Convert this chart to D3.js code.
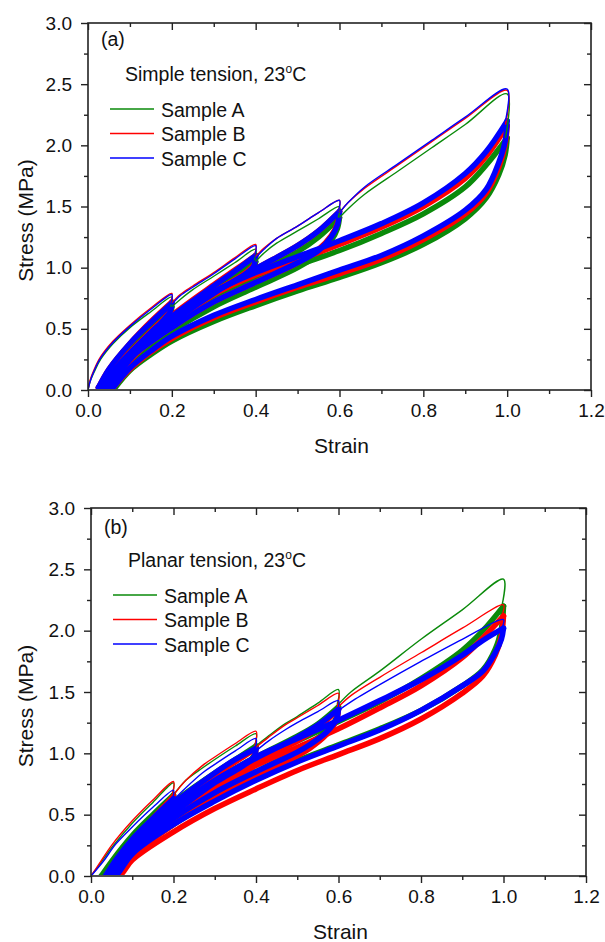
<!DOCTYPE html>
<html>
<head>
<meta charset="utf-8">
<script src="https://cdn.jsdelivr.net/npm/d3@7"></script>
<style>
  body { margin: 0; background: #fff; }
  svg text { font-family: "Liberation Sans", Arial, sans-serif; fill: #111; }
</style>
</head>
<body>
<svg id="chart"></svg>
<script>
// axis ticks
var xTicks = [0, 0.2, 0.4, 0.6, 0.8, 1.0, 1.2];
var xMinor = [0.1, 0.3, 0.5, 0.7, 0.9, 1.1];
var yTicks = [0, 0.5, 1.0, 1.5, 2.0, 2.5, 3.0];
var yMinor = [0.25, 0.75, 1.25, 1.75, 2.25, 2.75];
var sampleNames = ["Sample A", "Sample B", "Sample C"];
var sampleColors = ["#0a8a0a", "#ff0000", "#0000ff"];

// (a) simple tension -- first loadings [strain, stress]
var simpleA_load = [
  [[0,0],[0.005,0.07],[0.015,0.15],[0.03,0.25],[0.06,0.38],[0.1,0.51],[0.15,0.64],[0.2,0.76],[0.197,0.68]],
  [[0.2,0.68],[0.22,0.74],[0.25,0.82],[0.3,0.93],[0.35,1.04],[0.4,1.15],[0.397,1.06]],
  [[0.4,1.05],[0.42,1.12],[0.45,1.20],[0.5,1.30],[0.55,1.40],[0.6,1.50],[0.597,1.41]],
  [[0.6,1.41],[0.62,1.48],[0.66,1.60],[0.74,1.79],[0.82,1.98],[0.9,2.17],[1.0,2.42],[0.996,2.06]]
];
var simpleA_cycles = [
  [[0.03,0.02],[0.05,0.14],[0.1,0.35],[0.15,0.52],[0.2,0.68]],
  [[0.2,0.68],[0.196,0.61],[0.18,0.55],[0.15,0.45],[0.1,0.28],[0.06,0.13],[0.03,0.02]],
  [[0.04,0.02],[0.06,0.13],[0.1,0.28],[0.2,0.58],[0.3,0.82],[0.35,0.94],[0.4,1.05]],
  [[0.4,1.05],[0.395,0.98],[0.38,0.93],[0.35,0.86],[0.3,0.77],[0.2,0.53],[0.1,0.27],[0.06,0.11],[0.04,0.02]],
  [[0.05,0.02],[0.1,0.26],[0.2,0.52],[0.3,0.75],[0.4,0.95],[0.5,1.13],[0.55,1.25],[0.6,1.41]],
  [[0.6,1.41],[0.595,1.32],[0.58,1.22],[0.55,1.11],[0.5,1.00],[0.4,0.84],[0.3,0.68],[0.2,0.48],[0.1,0.24],[0.06,0.08],[0.05,0.02]],
  [[0.06,0.02],[0.1,0.22],[0.2,0.51],[0.3,0.74],[0.4,0.90],[0.5,1.02],[0.6,1.14],[0.7,1.28],[0.8,1.44],[0.9,1.66],[0.95,1.84],[1.0,2.06]],
  [[1.0,2.06],[0.995,1.92],[0.98,1.76],[0.95,1.57],[0.9,1.40],[0.8,1.19],[0.7,1.04],[0.6,0.92],[0.5,0.81],[0.4,0.69],[0.3,0.56],[0.2,0.40],[0.15,0.29],[0.1,0.16],[0.065,0.02]]
];
var simpleB_load = [
  [[0,0],[0.005,0.08],[0.015,0.17],[0.03,0.27],[0.06,0.40],[0.1,0.53],[0.15,0.67],[0.2,0.79],[0.197,0.71]],
  [[0.2,0.71],[0.22,0.78],[0.25,0.85],[0.3,0.96],[0.35,1.08],[0.4,1.19],[0.397,1.10]],
  [[0.4,1.09],[0.42,1.16],[0.45,1.24],[0.5,1.34],[0.55,1.45],[0.6,1.55],[0.597,1.46]],
  [[0.6,1.45],[0.62,1.53],[0.66,1.65],[0.74,1.84],[0.82,2.03],[0.9,2.22],[1.0,2.45],[0.996,2.17]]
];
var simpleB_cycles = [
  [[0.025,0.02],[0.05,0.17],[0.1,0.38],[0.15,0.56],[0.2,0.72]],
  [[0.2,0.72],[0.196,0.65],[0.18,0.58],[0.15,0.48],[0.1,0.30],[0.06,0.14],[0.025,0.02]],
  [[0.035,0.02],[0.06,0.15],[0.1,0.31],[0.2,0.61],[0.3,0.86],[0.35,0.98],[0.4,1.10]],
  [[0.4,1.10],[0.395,1.02],[0.38,0.97],[0.35,0.90],[0.3,0.80],[0.2,0.56],[0.1,0.29],[0.06,0.12],[0.035,0.02]],
  [[0.045,0.02],[0.1,0.28],[0.2,0.56],[0.3,0.80],[0.4,0.99],[0.5,1.18],[0.55,1.30],[0.6,1.46]],
  [[0.6,1.46],[0.595,1.36],[0.58,1.26],[0.55,1.15],[0.5,1.04],[0.4,0.88],[0.3,0.72],[0.2,0.51],[0.1,0.26],[0.06,0.10],[0.045,0.02]],
  [[0.055,0.02],[0.1,0.24],[0.2,0.54],[0.3,0.78],[0.4,0.94],[0.5,1.06],[0.6,1.19],[0.7,1.33],[0.8,1.50],[0.9,1.73],[0.95,1.91],[1.0,2.16]],
  [[1.0,2.16],[0.995,2.00],[0.98,1.82],[0.95,1.61],[0.9,1.44],[0.8,1.23],[0.7,1.07],[0.6,0.95],[0.5,0.84],[0.4,0.72],[0.3,0.59],[0.2,0.42],[0.15,0.31],[0.1,0.17],[0.06,0.02]]
];
var simpleC_load = [
  [[0,0],[0.005,0.07],[0.015,0.16],[0.03,0.26],[0.06,0.39],[0.1,0.52],[0.15,0.66],[0.2,0.78],[0.197,0.70]],
  [[0.2,0.70],[0.22,0.77],[0.25,0.84],[0.3,0.95],[0.35,1.07],[0.4,1.18],[0.397,1.09]],
  [[0.4,1.08],[0.42,1.15],[0.45,1.24],[0.5,1.34],[0.55,1.45],[0.6,1.55],[0.597,1.46]],
  [[0.6,1.45],[0.62,1.53],[0.66,1.66],[0.74,1.85],[0.82,2.04],[0.9,2.23],[1.0,2.46],[0.996,2.20]]
];
var simpleC_cycles = [
  [[0.025,0.02],[0.05,0.17],[0.1,0.38],[0.15,0.55],[0.2,0.71]],
  [[0.2,0.71],[0.196,0.64],[0.18,0.57],[0.15,0.47],[0.1,0.30],[0.06,0.14],[0.025,0.02]],
  [[0.035,0.02],[0.06,0.15],[0.1,0.30],[0.2,0.60],[0.3,0.85],[0.35,0.97],[0.4,1.10]],
  [[0.4,1.10],[0.395,1.01],[0.38,0.96],[0.35,0.89],[0.3,0.80],[0.2,0.56],[0.1,0.29],[0.06,0.12],[0.035,0.02]],
  [[0.045,0.02],[0.1,0.28],[0.2,0.55],[0.3,0.79],[0.4,0.99],[0.5,1.18],[0.55,1.30],[0.6,1.46]],
  [[0.6,1.46],[0.595,1.35],[0.58,1.25],[0.55,1.14],[0.5,1.04],[0.4,0.88],[0.3,0.72],[0.2,0.51],[0.1,0.26],[0.06,0.10],[0.045,0.02]],
  [[0.055,0.02],[0.1,0.25],[0.2,0.56],[0.3,0.80],[0.4,0.96],[0.5,1.09],[0.6,1.22],[0.7,1.36],[0.8,1.53],[0.9,1.77],[0.95,1.95],[1.0,2.20]],
  [[1.0,2.20],[0.995,2.03],[0.98,1.86],[0.95,1.64],[0.9,1.47],[0.8,1.26],[0.7,1.10],[0.6,0.98],[0.5,0.86],[0.4,0.74],[0.3,0.61],[0.2,0.44],[0.15,0.32],[0.1,0.18],[0.06,0.02]]
];

// (b) planar tension
var planarA_load = [
  [[0,0],[0.02,0.09],[0.05,0.23],[0.1,0.43],[0.15,0.60],[0.2,0.76],[0.197,0.66]],
  [[0.2,0.66],[0.23,0.78],[0.27,0.88],[0.3,0.95],[0.35,1.06],[0.4,1.16],[0.397,1.06]],
  [[0.4,1.06],[0.43,1.14],[0.47,1.24],[0.5,1.30],[0.55,1.41],[0.6,1.52],[0.597,1.40]],
  [[0.6,1.40],[0.63,1.50],[0.7,1.67],[0.8,1.93],[0.9,2.17],[1.0,2.42],[0.996,2.20]]
];
var planarA_cycles = [
  [[0.025,0],[0.05,0.12],[0.1,0.33],[0.15,0.50],[0.2,0.66]],
  [[0.2,0.66],[0.196,0.58],[0.18,0.52],[0.15,0.42],[0.1,0.26],[0.05,0.07],[0.025,0]],
  [[0.035,0],[0.1,0.29],[0.2,0.60],[0.3,0.84],[0.35,0.95],[0.4,1.06]],
  [[0.4,1.06],[0.395,0.98],[0.37,0.90],[0.33,0.82],[0.3,0.76],[0.2,0.52],[0.1,0.24],[0.05,0.04],[0.035,0]],
  [[0.04,0],[0.1,0.27],[0.2,0.55],[0.3,0.78],[0.4,0.97],[0.5,1.14],[0.55,1.24],[0.6,1.38]],
  [[0.6,1.38],[0.595,1.29],[0.57,1.18],[0.53,1.08],[0.5,1.02],[0.4,0.85],[0.3,0.67],[0.2,0.47],[0.1,0.22],[0.05,0.03],[0.04,0]],
  [[0.05,0],[0.1,0.22],[0.2,0.53],[0.3,0.76],[0.4,0.95],[0.5,1.10],[0.6,1.26],[0.7,1.42],[0.8,1.61],[0.9,1.84],[0.95,2.00],[1.0,2.20]],
  [[1.0,2.20],[0.995,2.02],[0.98,1.85],[0.95,1.68],[0.9,1.55],[0.8,1.35],[0.7,1.20],[0.6,1.07],[0.5,0.94],[0.4,0.79],[0.3,0.62],[0.2,0.42],[0.1,0.18],[0.06,0.02],[0.05,0]]
];
var planarB_load = [
  [[0,0],[0.02,0.10],[0.05,0.25],[0.1,0.45],[0.15,0.62],[0.2,0.77],[0.197,0.66]],
  [[0.2,0.66],[0.23,0.78],[0.27,0.90],[0.3,0.97],[0.35,1.08],[0.4,1.18],[0.397,1.06]],
  [[0.4,1.05],[0.43,1.13],[0.47,1.23],[0.5,1.29],[0.55,1.39],[0.6,1.49],[0.597,1.38]],
  [[0.6,1.38],[0.63,1.47],[0.7,1.62],[0.8,1.82],[0.9,2.02],[1.0,2.21],[0.996,2.12]]
];
var planarB_cycles = [
  [[0.045,0],[0.07,0.13],[0.1,0.28],[0.15,0.47],[0.2,0.65]],
  [[0.2,0.65],[0.196,0.57],[0.18,0.51],[0.15,0.41],[0.1,0.22],[0.06,0.05],[0.045,0]],
  [[0.055,0],[0.1,0.25],[0.2,0.57],[0.3,0.82],[0.35,0.93],[0.4,1.04]],
  [[0.4,1.04],[0.395,0.96],[0.37,0.88],[0.33,0.80],[0.3,0.74],[0.2,0.49],[0.1,0.20],[0.07,0.05],[0.055,0]],
  [[0.06,0],[0.1,0.22],[0.2,0.51],[0.3,0.74],[0.4,0.93],[0.5,1.10],[0.55,1.21],[0.6,1.36]],
  [[0.6,1.36],[0.595,1.27],[0.57,1.15],[0.53,1.04],[0.5,0.98],[0.4,0.81],[0.3,0.63],[0.2,0.42],[0.1,0.16],[0.07,0.03],[0.06,0]],
  [[0.065,0],[0.1,0.17],[0.2,0.48],[0.3,0.71],[0.4,0.90],[0.5,1.05],[0.6,1.20],[0.7,1.37],[0.8,1.55],[0.9,1.78],[0.95,1.94],[1.0,2.12]],
  [[1.0,2.12],[0.995,1.96],[0.98,1.80],[0.95,1.63],[0.9,1.49],[0.8,1.28],[0.7,1.12],[0.6,0.99],[0.5,0.86],[0.4,0.71],[0.3,0.55],[0.2,0.36],[0.1,0.13],[0.075,0.02],[0.065,0]]
];
var planarC_load = [
  [[0,0],[0.03,0.12],[0.06,0.26],[0.1,0.40],[0.15,0.56],[0.2,0.70],[0.197,0.62]],
  [[0.2,0.62],[0.23,0.72],[0.27,0.84],[0.3,0.91],[0.35,1.02],[0.4,1.12],[0.397,1.03]],
  [[0.4,1.02],[0.43,1.10],[0.47,1.19],[0.5,1.25],[0.55,1.34],[0.6,1.43],[0.597,1.35]],
  [[0.6,1.35],[0.63,1.42],[0.7,1.56],[0.8,1.75],[0.9,1.93],[1.0,2.09],[0.996,2.02]]
];
var planarC_cycles = [
  [[0.035,0],[0.06,0.13],[0.1,0.30],[0.15,0.47],[0.2,0.63]],
  [[0.2,0.63],[0.196,0.56],[0.18,0.50],[0.15,0.40],[0.1,0.24],[0.05,0.05],[0.035,0]],
  [[0.045,0],[0.1,0.28],[0.2,0.59],[0.3,0.84],[0.35,0.95],[0.4,1.04]],
  [[0.4,1.04],[0.395,0.97],[0.37,0.90],[0.33,0.82],[0.3,0.76],[0.2,0.51],[0.1,0.23],[0.06,0.05],[0.045,0]],
  [[0.05,0],[0.1,0.26],[0.2,0.55],[0.3,0.78],[0.4,0.96],[0.5,1.13],[0.55,1.23],[0.6,1.36]],
  [[0.6,1.36],[0.595,1.28],[0.57,1.17],[0.53,1.07],[0.5,1.01],[0.4,0.85],[0.3,0.68],[0.2,0.47],[0.1,0.20],[0.06,0.03],[0.05,0]],
  [[0.055,0],[0.1,0.22],[0.2,0.53],[0.3,0.77],[0.4,0.97],[0.5,1.12],[0.6,1.27],[0.7,1.43],[0.8,1.60],[0.9,1.80],[0.95,1.92],[1.0,2.02]],
  [[1.0,2.02],[0.995,1.93],[0.98,1.82],[0.95,1.67],[0.9,1.55],[0.8,1.35],[0.7,1.19],[0.6,1.06],[0.5,0.93],[0.4,0.78],[0.3,0.61],[0.2,0.42],[0.1,0.18],[0.065,0.02],[0.055,0]]
];

var svg = d3.select("#chart").attr("width", 605).attr("height", 942);

function drawPanel(p) {
  var x = d3.scaleLinear().domain([0, 1.2]).range([p.left, p.right]);
  var y = d3.scaleLinear().domain([0, 3]).range([p.bottom, p.top]);
  var g = svg.append("g");

  var line = d3.line()
    .x(function(d) { return x(d[0]); })
    .y(function(d) { return y(d[1]); })
    .curve(d3.curveCatmullRom.alpha(0.5));

  var clipId = "clip" + p.tag;
  g.append("clipPath").attr("id", clipId).append("rect")
    .attr("x", p.left).attr("y", p.top - 2)
    .attr("width", p.right - p.left).attr("height", p.bottom - p.top + 1);
  var plot = g.append("g").attr("clip-path", "url(#" + clipId + ")");

  // repeated cycles drawn as thick bands, first loadings as thin lines
  p.samples.forEach(function(s, i) {
    plot.selectAll(null).data(s.cycles).enter().append("path")
      .attr("d", line).attr("fill", "none")
      .attr("stroke", sampleColors[i]).attr("stroke-width", 5.5)
      .attr("stroke-linejoin", "round").attr("stroke-linecap", "round");
  });
  p.samples.forEach(function(s, i) {
    plot.selectAll(null).data(s.load).enter().append("path")
      .attr("d", line).attr("fill", "none")
      .attr("stroke", sampleColors[i]).attr("stroke-width", 1.4)
      .attr("stroke-linejoin", "round");
  });

  // axes: outward ticks on left/bottom, inward on top/right
  var fmt = d3.format(".1f");
  function styleAxis(sel) {
    sel.select(".domain").remove();
    sel.selectAll("line").attr("stroke", "#222").attr("stroke-width", 1.4);
    sel.selectAll("text").style("font-size", "19px").attr("fill", "#111");
  }
  g.append("g").attr("transform", "translate(0," + p.bottom + ")")
    .call(d3.axisBottom(x).tickValues(xTicks).tickSize(7).tickPadding(6.5).tickFormat(fmt)).call(styleAxis);
  g.append("g").attr("transform", "translate(0," + p.bottom + ")")
    .call(d3.axisBottom(x).tickValues(xMinor).tickSize(4).tickFormat("")).call(styleAxis);
  g.append("g").attr("transform", "translate(" + p.left + ",0)")
    .call(d3.axisLeft(y).tickValues(yTicks).tickSize(7).tickPadding(9).tickFormat(fmt)).call(styleAxis);
  g.append("g").attr("transform", "translate(" + p.left + ",0)")
    .call(d3.axisLeft(y).tickValues(yMinor).tickSize(4).tickFormat("")).call(styleAxis);
  g.append("g").attr("transform", "translate(0," + p.top + ")")
    .call(d3.axisTop(x).tickValues(xTicks).tickSize(-7).tickFormat("")).call(styleAxis);
  g.append("g").attr("transform", "translate(0," + p.top + ")")
    .call(d3.axisTop(x).tickValues(xMinor).tickSize(-4).tickFormat("")).call(styleAxis);
  g.append("g").attr("transform", "translate(" + p.right + ",0)")
    .call(d3.axisRight(y).tickValues(yTicks).tickSize(-7).tickFormat("")).call(styleAxis);
  g.append("g").attr("transform", "translate(" + p.right + ",0)")
    .call(d3.axisRight(y).tickValues(yMinor).tickSize(-4).tickFormat("")).call(styleAxis);

  g.append("rect").attr("x", p.left).attr("y", p.top)
    .attr("width", p.right - p.left).attr("height", p.bottom - p.top)
    .attr("fill", "none").attr("stroke", "#222").attr("stroke-width", 1.6);

  // axis titles
  g.append("text").attr("x", (p.left + p.right) / 2 + 2).attr("y", p.bottom + 63)
    .attr("text-anchor", "middle").style("font-size", "21px").text("Strain");
  g.append("text").attr("transform", "translate(33," + ((p.top + p.bottom) / 2 + 14) + ") rotate(-90)")
    .attr("text-anchor", "middle").style("font-size", "21px").text("Stress (MPa)");

  // panel tag and condition
  g.append("text").attr("x", p.left + 13).attr("y", p.top + p.tagDy)
    .style("font-size", "19.5px").text("(" + p.tag + ")");
  var t = g.append("text").attr("x", p.left + 37).attr("y", p.top + p.titleDy)
    .style("font-size", "19.5px");
  t.append("tspan").text(p.title + ", 23");
  t.append("tspan").attr("dy", -8).style("font-size", "12px").text("o");
  t.append("tspan").attr("dy", 8).text("C");

  // legend
  sampleNames.forEach(function(name, i) {
    var ly = p.top + p.legendDy + i * 24.5;
    g.append("line").attr("x1", p.left + 22).attr("x2", p.left + 66)
      .attr("y1", ly).attr("y2", ly)
      .attr("stroke", sampleColors[i]).attr("stroke-width", 1.6);
    g.append("text").attr("x", p.left + 73).attr("y", ly + 7.5)
      .style("font-size", "19.5px").text(name);
  });
}

drawPanel({
  tag: "a", title: "Simple tension",
  left: 88, right: 591, top: 23, bottom: 390,
  tagDy: 23, titleDy: 58, legendDy: 86,
  samples: [
    { load: simpleA_load, cycles: simpleA_cycles },
    { load: simpleB_load, cycles: simpleB_cycles },
    { load: simpleC_load, cycles: simpleC_cycles }
  ]
});

drawPanel({
  tag: "b", title: "Planar tension",
  left: 91, right: 586, top: 508, bottom: 876,
  tagDy: 26, titleDy: 59, legendDy: 87,
  samples: [
    { load: planarA_load, cycles: planarA_cycles },
    { load: planarB_load, cycles: planarB_cycles },
    { load: planarC_load, cycles: planarC_cycles }
  ]
});
</script>
</body>
</html>
